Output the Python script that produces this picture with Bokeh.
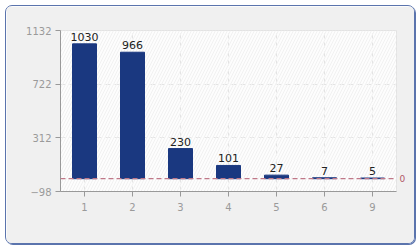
from bokeh.plotting import figure
from bokeh.models import (Range1d, FixedTicker, Span, BoxAnnotation, ColumnDataSource,
                          LabelSet, LinearAxis)
from bokeh.core.properties import value
from bokeh.embed import file_html
from bokeh.resources import INLINE

categories = ["1", "2", "3", "4", "5", "6", "9"]
values = [1030, 966, 230, 101, 27, 7, 5]
y_ticks = [-98, 312, 722, 1132]
y_min, y_max = -98, 1132
baseline_value = 0

src = ColumnDataSource(data=dict(cat=categories, val=values, txt=[str(v) for v in values]))

p = figure(x_range=categories, y_range=Range1d(y_min, y_max), width=410, height=239,
           output_backend="svg", toolbar_location=None, margin=(5, 5, 5, 5),
           min_border_left=54, min_border_right=20, min_border_top=24, min_border_bottom=54,
           background_fill_color="#fdfdfd", border_fill_color="#f0f0f0",
           styles={"border": "1px solid #5b74ad", "border-radius": "7px",
                   "box-shadow": "1px 1px 0 #5b74ad", "overflow": "hidden"})

p.outline_line_color = "#e3e3e3"

p.add_layout(BoxAnnotation(fill_alpha=0, line_alpha=0, hatch_pattern="/", hatch_color="#f1f1f1",
                           hatch_scale=6, hatch_weight=1, level="underlay"))

p.vbar(x="cat", top="val", width=0.5, source=src, fill_color="#1a3880", line_color="#1a3880")

p.add_layout(LabelSet(x="cat", y="val", text="txt", source=src, text_align="center",
                      text_baseline="bottom", y_offset=3, text_font_size="11px",
                      text_color="#222222", text_font=value("DejaVu Sans")))

p.add_layout(Span(location=baseline_value, dimension="width", line_color="#c07888",
                  line_dash="5 3", line_width=1.2))

# right-hand marker for the zero line
zero_axis = LinearAxis(ticker=FixedTicker(ticks=[baseline_value]))
zero_axis.axis_line_color = None
zero_axis.major_tick_line_color = None
zero_axis.minor_tick_line_color = None
zero_axis.major_tick_in = 0
zero_axis.major_tick_out = 0
zero_axis.major_label_standoff = 3
zero_axis.major_label_text_color = "#b05868"
zero_axis.major_label_text_font = "DejaVu Sans"
zero_axis.major_label_text_font_size = "9px"
p.add_layout(zero_axis, "right")

p.yaxis[0].ticker = FixedTicker(ticks=y_ticks)
for ax in (p.xaxis[0], p.yaxis[0]):
    ax.axis_line_color = "#999999"
    ax.major_tick_line_color = "#999999"
    ax.minor_tick_line_color = None
    ax.major_tick_in = 0
    ax.major_tick_out = 5
    ax.major_label_text_color = "#9a9a9a"
    ax.major_label_text_font = "DejaVu Sans"
    ax.major_label_text_font_size = "10px"
p.xaxis.major_label_standoff = 6
p.yaxis[0].major_label_standoff = 4

p.xgrid.grid_line_color = "#e4e4e4"
p.xgrid.grid_line_dash = "5 4"
p.ygrid.grid_line_color = "#e4e4e4"
p.ygrid.grid_line_dash = "5 4"
p.x_range.range_padding = 0

open("out.html", "w").write(file_html(p, INLINE))
